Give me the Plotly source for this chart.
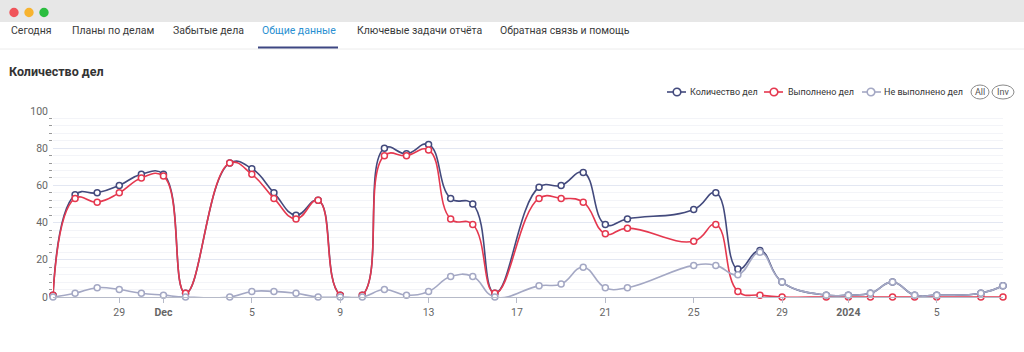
import plotly.graph_objects as go

# ---------------- data ----------------
dates = ["2023-11-26", "2023-11-27", "2023-11-28", "2023-11-29", "2023-11-30",
         "2023-12-01", "2023-12-02", "2023-12-04", "2023-12-05", "2023-12-06",
         "2023-12-07", "2023-12-08", "2023-12-09", "2023-12-10", "2023-12-11",
         "2023-12-12", "2023-12-13", "2023-12-14", "2023-12-15", "2023-12-16",
         "2023-12-18", "2023-12-19", "2023-12-20", "2023-12-21", "2023-12-22",
         "2023-12-25", "2023-12-26", "2023-12-27", "2023-12-28", "2023-12-29",
         "2023-12-31", "2024-01-01", "2024-01-02", "2024-01-03", "2024-01-04",
         "2024-01-05", "2024-01-07", "2024-01-08"]
total = [1, 55, 56, 60, 66, 66, 2, 72, 69, 56, 44, 52, 1, 1, 80, 77, 82, 53, 50, 2,
         59, 60, 67, 39, 42, 47, 56, 15, 25, 8, 1, 1, 2, 8, 1, 1, 2, 6]
done = [1, 53, 51, 56, 64, 65, 2, 72, 66, 53, 42, 52, 1, 1, 76, 76, 79, 42, 39, 2,
        53, 53, 51, 34, 37, 30, 39, 3, 1, 0, 0, 0, 0, 0, 0, 0, 0, 0]
not_done = [0, 2, 5, 4, 2, 1, 0, 0, 3, 3, 2, 0, 0, 0, 4, 1, 3, 11, 11, 0,
            6, 7, 16, 5, 5, 17, 17, 12, 24, 8, 1, 1, 2, 8, 1, 1, 2, 6]
series_names = ["Количество дел", "Выполнено дел", "Не выполнено дел"]
series_colors = ["#434a7d", "#e5384f", "#a4a8c4"]

tick_dates = ["2023-11-29", "2023-12-01", "2023-12-05", "2023-12-09", "2023-12-13",
              "2023-12-17", "2023-12-21", "2023-12-25", "2023-12-29", "2024-01-01",
              "2024-01-05"]
tick_labels = ["29", "<b>Dec</b>", "5", "9", "13", "17", "21", "25", "29", "<b>2024</b>", "5"]

tabs = ["Сегодня", "Планы по делам", "Забытые дела", "Общие данные",
        "Ключевые задачи отчёта", "Обратная связь и помощь"]
active_tab = "Общие данные"
title = "Количество дел"

# ---------------- geometry ----------------
W, H = 1024, 352
L, R, T, B = 53, 21, 111, 55
PW, PH = W - L - R, H - T - B


def px(x):
    return (x - L) / PW


def py(y):
    return (H - B - y) / PH


FONT = "Roboto"

fig = go.Figure()
for name, vals, col in zip(series_names, [total, done, not_done], series_colors):
    fig.add_trace(go.Scatter(
        x=dates, y=vals, name=name, mode="lines+markers",
        line=dict(color=col, width=1.6, shape="spline", smoothing=1.3),
        marker=dict(symbol="circle", size=6, color="white", line=dict(color=col, width=1.5)),
        hoverinfo="skip", showlegend=False, cliponaxis=False,
    ))

shapes = []
annotations = []

# window bar
shapes.append(dict(type="rect", xref="paper", yref="paper", x0=px(0), x1=px(W), y0=py(0), y1=py(22),
                   fillcolor="#e7e7e7", line=dict(width=0), layer="below"))
for cx, col in [(14, "#f0545a"), (29, "#f7b32f"), (44, "#2bbd3f")]:
    shapes.append(dict(type="circle", xref="paper", yref="paper", x0=px(cx - 4.7), x1=px(cx + 4.7),
                       y0=py(12.5 - 4.7), y1=py(12.5 + 4.7), fillcolor=col, line=dict(width=0)))

# tabs
tab_x = [9, 70, 171, 260, 355, 498]
for t, x in zip(tabs, tab_x):
    annotations.append(dict(text=t, xref="paper", yref="paper", x=px(x), y=py(31), xanchor="left",
                            yanchor="middle", showarrow=False,
                            font=dict(family=FONT, size=10.5,
                                      color="#2a8fd1" if t == active_tab else "#3a3a3a")))
shapes.append(dict(type="line", xref="paper", yref="paper", x0=px(0), x1=px(W), y0=py(49), y1=py(49),
                   line=dict(color="#ececec", width=1)))
shapes.append(dict(type="line", xref="paper", yref="paper", x0=px(258), x1=px(338), y0=py(47.5), y1=py(47.5),
                   line=dict(color="#3d4782", width=2)))

# title
annotations.append(dict(text="<b>" + title + "</b>", xref="paper", yref="paper", x=px(6.5), y=py(71),
                        xanchor="left", yanchor="middle", showarrow=False,
                        font=dict(family=FONT, size=12.5, color="#333333")))

# legend (manual)
leg_y = 92
leg_items = [(667, 686, 677, 688), (764, 783, 774, 786), (862, 881, 871, 882)]
for (x0, x1, cx, tx), name, col in zip(leg_items, series_names, series_colors):
    shapes.append(dict(type="line", xref="paper", yref="paper", x0=px(x0), x1=px(x1),
                       y0=py(leg_y), y1=py(leg_y), line=dict(color=col, width=1.6)))
    shapes.append(dict(type="circle", xref="paper", yref="paper", x0=px(cx - 3.8), x1=px(cx + 3.8),
                       y0=py(leg_y - 3.8), y1=py(leg_y + 3.8), fillcolor="white", line=dict(color=col, width=1.6)))
    annotations.append(dict(text=name, xref="paper", yref="paper", x=px(tx), y=py(leg_y), xanchor="left",
                            yanchor="middle", showarrow=False,
                            font=dict(family=FONT, size=9, color="#333333")))
for lbl, x0, x1 in [("All", 971, 989), ("Inv", 992, 1014)]:
    shapes.append(dict(type="circle", xref="paper", yref="paper", x0=px(x0), x1=px(x1),
                       y0=py(leg_y - 7), y1=py(leg_y + 7), fillcolor="white",
                       line=dict(color="#8a8a8a", width=1)))
    annotations.append(dict(text=lbl, xref="paper", yref="paper", x=px((x0 + x1) / 2), y=py(leg_y),
                            xanchor="center", yanchor="middle", showarrow=False,
                            font=dict(family=FONT, size=9, color="#555555")))

fig.update_layout(
    width=W, height=H,
    margin=dict(l=L, r=R, t=T, b=B, pad=0),
    paper_bgcolor="white", plot_bgcolor="white",
    shapes=shapes, annotations=annotations,
    showlegend=False,
    xaxis=dict(
        type="date", range=["2023-11-26", "2024-01-08"],
        tickvals=tick_dates, ticktext=tick_labels,
        showgrid=False, zeroline=False,
        showline=True, linecolor="#b6bac8", linewidth=1,
        ticks="outside", ticklen=5, tickcolor="#b6bac8",
        tickfont=dict(family=FONT, size=10.5, color="#666666"),
    ),
    yaxis=dict(
        range=[0, 100], dtick=20, tick0=0,
        showgrid=True, gridcolor="#e3e7f2", gridwidth=1,
        zeroline=False, showline=False,
        ticks="", ticklen=0,
        tickfont=dict(family=FONT, size=10.5, color="#666666"),
        ticklabelstandoff=4,
        minor=dict(dtick=4, tick0=0, ticks="outside", ticklen=3, tickcolor="#999999",
                   showgrid=True, gridcolor="#f3f4f8", gridwidth=1),
    ),
)

fig.write_html("out.html")
